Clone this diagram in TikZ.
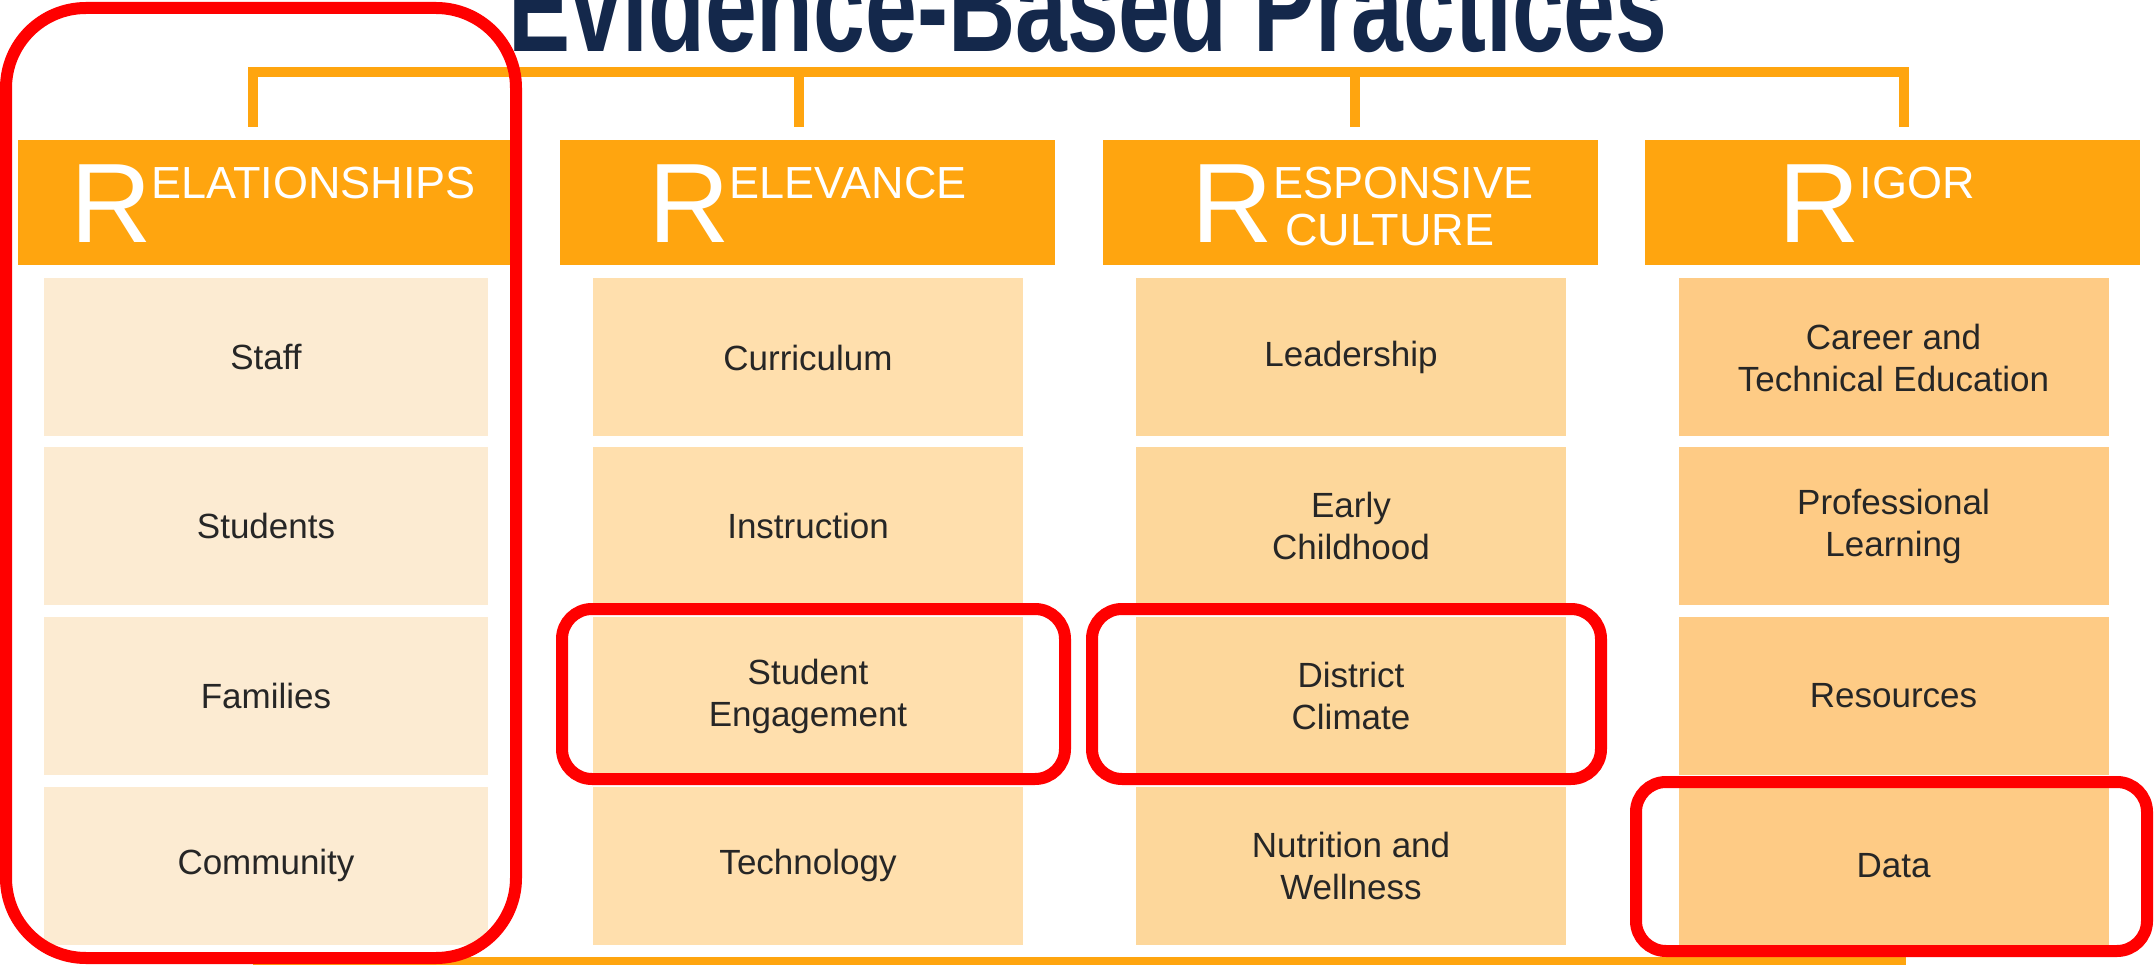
\documentclass[tikz,border=0pt]{standalone}
\usepackage{fontspec}
\setmainfont{Liberation Sans}
\usepackage{graphicx}
\usepackage{tikz}

\definecolor{hdrorange}{HTML}{FFA50F}
\definecolor{relcell}{HTML}{FCEBD2}
\definecolor{relvcell}{HTML}{FFDFAD}
\definecolor{respcell}{HTML}{FDD79B}
\definecolor{rigcell}{HTML}{FECB85}
\definecolor{titlenavy}{HTML}{14284B}
\definecolor{txtgray}{HTML}{262626}

\tikzset{
	hdr/.style={fill=hdrorange, minimum width=495pt, minimum height=125pt, inner sep=0pt, text=white, text height=81pt, text depth=0pt},
	cell/.style={minimum width=430pt, minimum height=158pt, inner sep=0pt, align=center, text=txtgray, font=\fontsize{35}{42}\selectfont},
	bracket/.style={draw=hdrorange, line width=10pt},
	hilite/.style={draw=red, line width=12pt}
}

\newcommand{\rlabel}[1]{{\fontsize{113}{113}\selectfont R}\raisebox{44pt}{\fontsize{45}{47}\selectfont\begin{tabular}[t]{@{}l@{}}#1\end{tabular}}}

\begin{document}
\begin{tikzpicture}[x=1pt, y=-1pt]
			\useasboundingbox (0, 0) rectangle (2156, 965);
			% title
			\node[anchor=base, text=titlenavy, inner sep=0pt] (ttl) at (1088, 52) {\scalebox{0.716}[1]{\fontsize{130}{130}\selectfont\bfseries Evidence-Based Practices}};
			% the four R's
			\node[hdr] (rel) at (265, 202.5) {\kern16pt\rlabel{ELATIONSHIPS}};
			\node[hdr] (relv) at (807.5, 202.5) {\rlabel{ELEVANCE}};
			\node[hdr] (resp) at (1350.5, 202.5) {\kern24pt\rlabel{ESPONSIVE\\\hspace*{12pt}CULTURE}};
			\node[hdr] (rig) at (1892.5, 202.5) {\rlabel{IGOR}\kern32pt};
			% bracket
			\coordinate (brk) at (0, 72);
			\coordinate (foot) at (0, 962);
			\draw[bracket] ([shift={(-12pt,13pt)}]rel.north) |- ([xshift=11pt]rig.north |- brk) -- ([shift={(11pt,13pt)}]rig.north);
			\draw[bracket] ([shift={(-9pt,13pt)}]relv.north) -- ([xshift=-9pt]relv.north |- brk);
			\draw[bracket] ([shift={(4.5pt,13pt)}]resp.north) -- ([xshift=4.5pt]resp.north |- brk);
			\draw[bracket] ([xshift=-12pt]rel.north |- foot) -- ([xshift=13pt]rig.north |- foot);
			% relationships
			\node[cell, fill=relcell, minimum width=444pt] (staff) at (266, 357.5) {Staff};
			\node[cell, fill=relcell, minimum width=444pt] (students) at (266, 526) {Students};
			\node[cell, fill=relcell, minimum width=444pt] (families) at (266, 696) {Families};
			\node[cell, fill=relcell, minimum width=444pt] (community) at (266, 865.5) {Community};
			% relevance
			\node[cell, fill=relvcell] (curriculum) at (808, 357.5) {Curriculum};
			\node[cell, fill=relvcell] (instruction) at (808, 526) {Instruction};
			\node[cell, fill=relvcell] (engagement) at (808, 696) {Student\\Engagement};
			\node[cell, fill=relvcell] (technology) at (808, 865.5) {Technology};
			% responsive culture
			\node[cell, fill=respcell] (leadership) at (1351, 357.5) {Leadership};
			\node[cell, fill=respcell] (earlychild) at (1351, 526) {Early\\Childhood};
			\node[cell, fill=respcell] (climate) at (1351, 696) {District\\Climate};
			\node[cell, fill=respcell] (nutrition) at (1351, 865.5) {Nutrition and\\Wellness};
			% rigor
			\node[cell, fill=rigcell] (cte) at (1893.5, 357.5) {Career and\\Technical Education};
			\node[cell, fill=rigcell] (proflearn) at (1893.5, 526) {Professional\\Learning};
			\node[cell, fill=rigcell] (resources) at (1893.5, 696) {Resources};
			\node[cell, fill=rigcell] (data) at (1893.5, 865.5) {Data};
			% red highlights
			\draw[hilite, rounded corners=80pt] (6, 8) rectangle (516, 958);
			\draw[hilite, rounded corners=30pt] (562, 609) rectangle (1065, 779);
			\draw[hilite, rounded corners=30pt] (1092, 609) rectangle (1601, 779);
			\draw[hilite, rounded corners=30pt] (1636, 782) rectangle (2147, 951);
\end{tikzpicture}
\end{document}
